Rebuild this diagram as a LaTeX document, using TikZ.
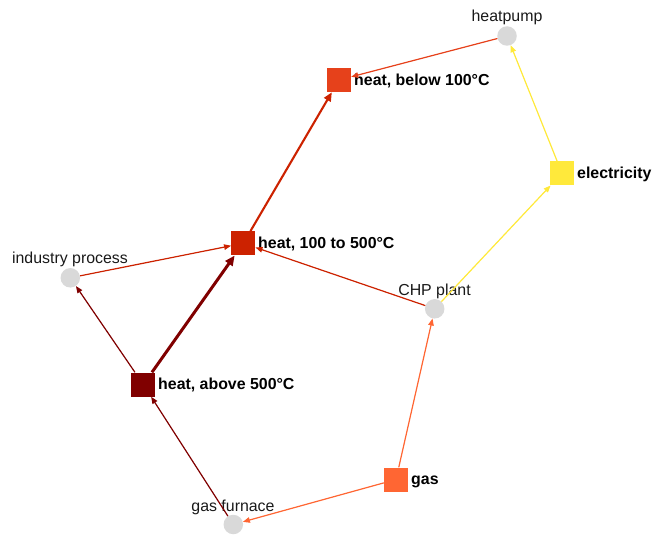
\documentclass[tikz,border=0pt]{standalone}
\usepackage{fontspec}
\setmainfont{Liberation Sans}
\usetikzlibrary{arrows.meta}
\definecolor{cbelow}{HTML}{E6411B}
\definecolor{cmid}{HTML}{CC2200}
\definecolor{cabove}{HTML}{800000}
\definecolor{cgas}{HTML}{FF6633}
\definecolor{celec}{HTML}{FFE93B}
\definecolor{cproc}{HTML}{D9D9D9}
\begin{document}
\begin{tikzpicture}[x=1pt,y=-1pt,
  sq/.style={rectangle, minimum size=24pt, inner sep=0pt, draw=none},
  proc/.style={circle, minimum size=19.5pt, inner sep=0pt, fill=cproc, draw=none},
  blab/.style={anchor=base west, font=\fontsize{15.9}{18}\selectfont\bfseries, inner sep=0pt, text=black},
  plab/.style={anchor=base, font=\fontsize{15.9}{18}\selectfont, inner sep=0pt, text=black!90},
  edge/.style={-{Triangle[length=7pt,width=5.5pt]}, line width=1.2pt},
  medge/.style={-{Triangle[length=9pt,width=7.5pt]}, line width=2.1pt},
  tedge/.style={-{Triangle[length=10pt,width=8.5pt]}, line width=3pt},
]
\useasboundingbox (0,0) rectangle (652,535);
% labels
\node[plab] (hpl) at (507,22) {heatpump};
\node[plab] (ipl) at (70,263.5) {industry process};
\node[plab] (chpl) at (434.5,295) {CHP plant};
\node[plab] (gfl) at (233,511.5) {gas furnace};
\node[blab] (b100l) at (354,85) {heat, below 100°C};
\node[blab] (m100l) at (258,248) {heat, 100 to 500°C};
\node[blab] (a500l) at (158,389.5) {heat, above 500°C};
\node[blab] (gasl) at (411,484.5) {gas};
\node[blab] (elecl) at (577,178.5) {electricity};
% nodes
\node[sq, fill=cbelow] (b100) at (339,80) {};
\node[sq, fill=cmid] (m100) at (243.3,243.3) {};
\node[sq, fill=cabove] (a500) at (143.3,384.5) {};
\node[sq, fill=cgas] (gas) at (396,479.5) {};
\node[sq, fill=celec] (elec) at (562,173.3) {};
\node[proc] (hp) at (507,36) {};
\node[proc] (ip) at (70.3,277.8) {};
\node[proc] (chp) at (434.7,308.8) {};
\node[proc] (gf) at (233.3,524.5) {};
% edges
\draw[edge, draw=cbelow, fill=cbelow] (hp) -- (b100);
\draw[medge, draw=cmid, fill=cmid] (m100) -- (b100);
\draw[edge, draw=cmid, fill=cmid] (ip) -- (m100);
\draw[edge, draw=cmid, fill=cmid] (chp) -- (m100);
\draw[tedge, draw=cabove, fill=cabove] (a500) -- (m100);
\draw[edge, draw=cabove, fill=cabove] (a500) -- (ip);
\draw[edge, draw=cabove, fill=cabove] (gf) -- (a500);
\draw[edge, draw=cgas, fill=cgas] (gas) -- (chp);
\draw[edge, draw=cgas, fill=cgas] (gas) -- (gf);
\draw[edge, draw=celec, fill=celec] (chp) -- (elec);
\draw[edge, draw=celec, fill=celec] (elec) -- (hp);
\end{tikzpicture}
\end{document}
